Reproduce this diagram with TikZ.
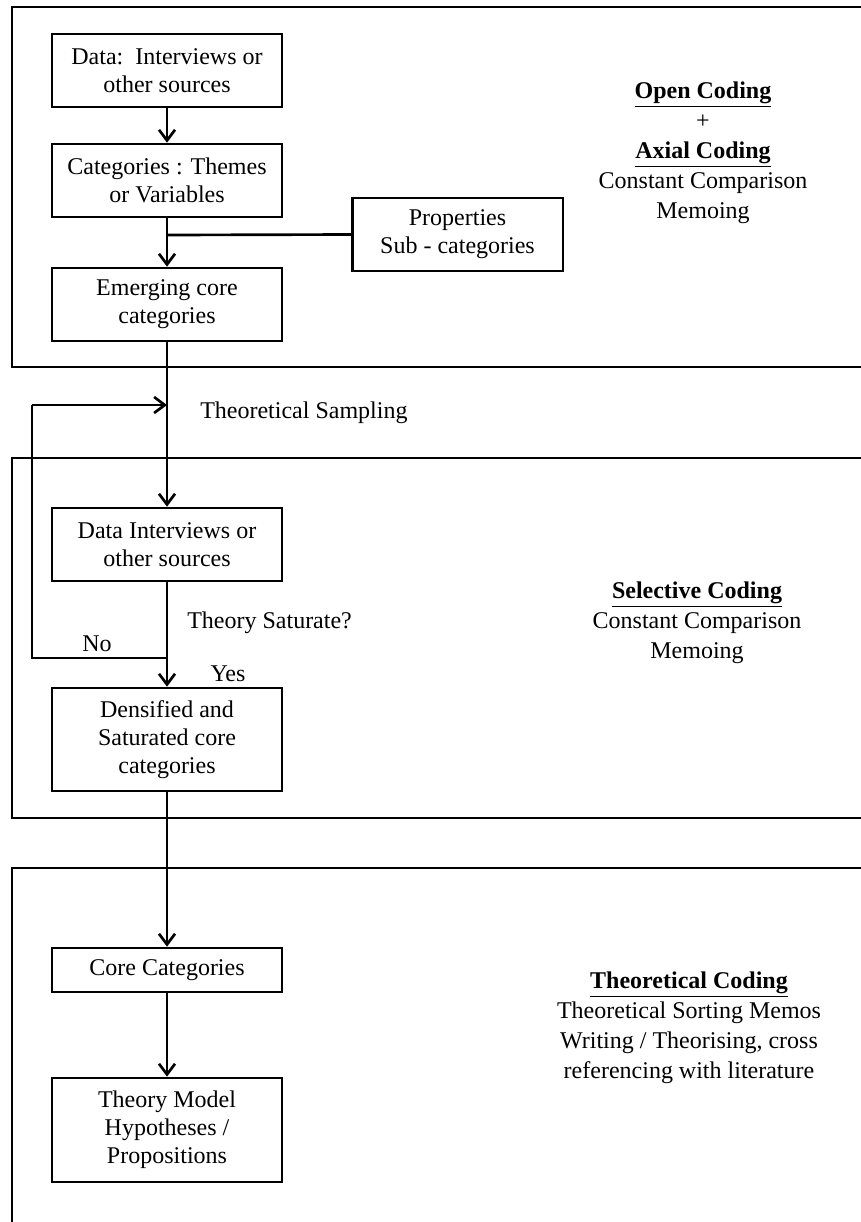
\documentclass[tikz,border=0pt]{standalone}
\usepackage{fontspec}
\setmainfont{Liberation Serif}
\usetikzlibrary{arrows.meta}
\begin{document}
\begin{tikzpicture}[x=0.75pt,y=-0.75pt,
  stepbox/.style={draw,line width=2pt,minimum width=172.5pt,align=center,
    inner sep=2pt,font=\fontsize{18}{21}\selectfont},
  flow/.style={line width=2pt,-{Straight Barb[length=8pt,width=12pt,line width=2pt]}},
  link/.style={line width=2pt},
  frame/.style={line width=2pt},
  lbl/.style={font=\fontsize{18}{21}\selectfont,inner sep=0pt},
  side/.style={align=center,font=\fontsize{18}{22.5}\selectfont,inner sep=0pt}]
\useasboundingbox (0,0) rectangle (861,1222);

% phase frames, open on the right / bottom
\draw[frame] (870,7) -- (12,7) -- (12,367) -- (870,367);
\draw[frame] (870,458) -- (12,458) -- (12,818) -- (870,818);
\draw[frame] (870,868) -- (12,868) -- (12,1230);

% boxes
\node[stepbox,minimum height=54.75pt] (data) at (167,70.5) {Data:\ \ Interviews or\\other sources};
\node[stepbox,minimum height=54.75pt] (cat) at (167,180.5) {Categories : Themes\\or Variables};
\node[stepbox,minimum height=54.75pt,minimum width=158pt] (prop) at (457.5,234.5) {Properties\\Sub - categories};
\node[stepbox,minimum height=54.75pt] (emer) at (167,304.5) {Emerging core\\categories};
\node[stepbox,minimum height=54.75pt] (di) at (167,544.5) {Data Interviews or\\other sources};
\node[stepbox,minimum height=77.25pt] (dens) at (167,739.5) {Densified and\\Saturated core\\categories};
\node[stepbox,minimum height=33pt] (core) at (167,970) {Core Categories};
\node[stepbox,minimum height=78pt] (theory) at (167,1130) {Theory Model\\Hypotheses /\\Propositions};

% connectors
\coordinate (branch) at (167,235);
\coordinate (split) at (167,658);
\coordinate (loopL) at (32,658);
\coordinate (loopT) at (32,405);
\coordinate (join) at (167,405);

\draw[flow] (data) -- (cat);
\draw[flow] (cat) -- (emer);
\draw[link] (branch) -- (prop.west);
\draw[flow] (emer) -- (di);
\draw[flow] (di) -- (dens);
\draw[link] (split) -- (loopL) -- (loopT);
\draw[flow] (loopT) -- (join);
\draw[flow] (dens) -- (core);
\draw[flow] (core) -- (theory);

% labels
\node[lbl,anchor=west] (samp) at (200,413) {Theoretical Sampling};
\node[lbl,anchor=west] (sat) at (187,623) {Theory Saturate?};
\node[lbl] (no) at (97,644) {No};
\node[lbl] (yes) at (228,674) {Yes};

% phase descriptions
\node[side] (open) at (703,153) {\underline{\textbf{Open Coding}}\\+\\\underline{\textbf{Axial Coding}}\\Constant Comparison\\Memoing};
\node[side] (sel) at (697,623) {\underline{\textbf{Selective Coding}}\\Constant Comparison\\Memoing};
\node[side] (theo) at (689,1028) {\underline{\textbf{Theoretical Coding}}\\Theoretical Sorting Memos\\Writing / Theorising, cross\\referencing with literature};
\end{tikzpicture}
\end{document}
